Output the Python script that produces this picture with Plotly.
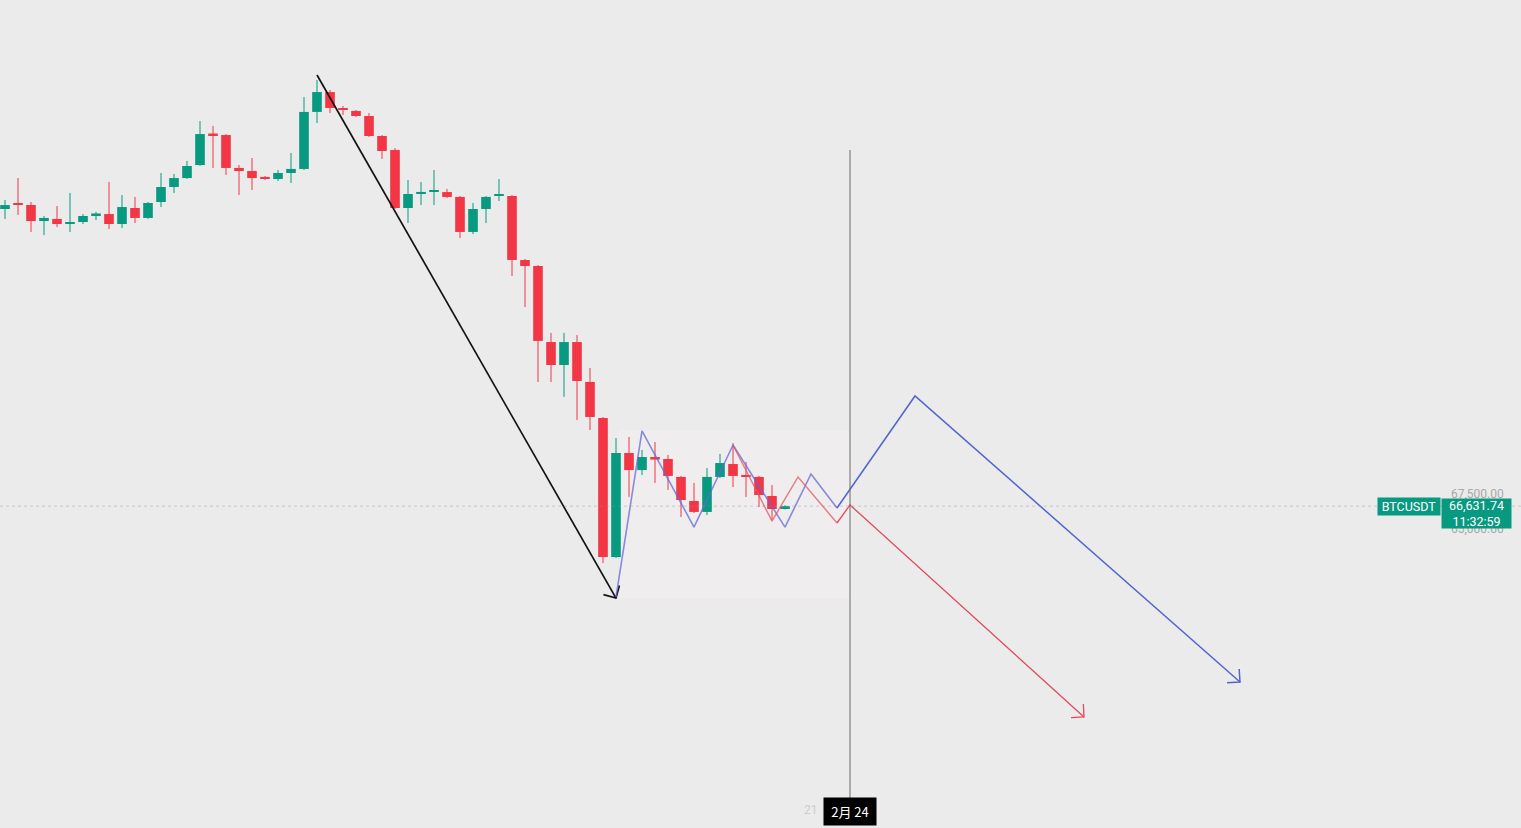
import math
import pandas as pd
import plotly.graph_objects as go

# ── Data: BTCUSDT daily candles ──────────────────────────────────────────────
dates = pd.date_range("2025-12-21", periods=61, freq="D")

opens = [87850, 88240, 88135, 86990, 87140, 86780, 86920, 87420, 87490, 86780,
         87920, 87210, 88350, 89420, 90060, 90990, 93240, 93130, 90780, 90560,
         90140, 89990, 90420, 90710, 94780, 96200, 95060, 94850, 94490, 93060,
         92060, 87920, 88960, 89100, 89060, 88710, 86210, 87850, 88810, 88780,
         84210, 83780, 78350, 76710, 78350, 75500, 72930, 63000, 70430, 69210,
         70140, 70000, 68720, 67000, 66220, 68720, 69640, 68820, 68720, 67360,
         66430]
highs = [88490, 90060, 88350, 87350, 88060, 88990, 87490, 87640, 89780, 88850,
         88710, 88350, 90420, 90350, 91280, 94130, 93780, 93200, 90990, 91490,
         90210, 90630, 91850, 95850, 97060, 96350, 95200, 94920, 94700, 93130,
         92200, 89920, 89780, 90630, 89280, 88780, 88280, 88780, 89990, 88850,
         84280, 83850, 79000, 79000, 78850, 76500, 73000, 71500, 71570, 70640,
         71210, 70290, 68790, 68290, 69360, 70360, 71140, 69790, 68790, 68140,
         66700]
lows = [87140, 87420, 86210, 85990, 86560, 86210, 86780, 87060, 86420, 86490,
        86850, 87140, 87990, 88990, 89990, 90920, 90780, 90280, 88850, 89210,
        89920, 89850, 89710, 90630, 93990, 94700, 94560, 94420, 92990, 91420,
        87850, 86850, 88130, 88130, 88630, 85780, 86060, 86850, 88420, 83070,
        80850, 75500, 75500, 74430, 72780, 72070, 62570, 62930, 67290, 68860,
        68290, 67790, 65860, 66140, 66000, 68640, 68000, 67290, 66570, 65650,
        66400]
closes = [88130, 88170, 86990, 87210, 86780, 86920, 87350, 87530, 86780, 87990,
          87210, 88280, 89420, 90060, 90920, 93200, 93130, 90780, 90560, 90060,
          89990, 90420, 90710, 94780, 96200, 95060, 94950, 94490, 93060, 91990,
          87920, 88920, 88990, 89130, 88710, 86210, 87850, 88710, 88850, 84210,
          83780, 78430, 76710, 78350, 75570, 73000, 63000, 70430, 69210, 70140,
          69960, 68790, 67070, 66220, 68720, 69710, 68790, 68750, 67430, 66430,
          66631.74]

last_price = 66631.74
last_time = "11:32:59"
symbol = "BTCUSDT"
scale_labels = [67500, 65000]

# ── Drawings ────────────────────────────────────────────────────────────────
trend_x = ["2026-01-14", "2026-02-06"]
trend_y = [97420, 60070]

blue_zig_x = ["2026-02-06", "2026-02-08", "2026-02-12", "2026-02-15",
              "2026-02-19", "2026-02-21", "2026-02-23"]
blue_zig_y = [60140, 72000, 65140, 71000, 65140, 68930, 66500]
blue_proj_x = ["2026-02-23", "2026-03-01", "2026-03-26"]
blue_proj_y = [66500, 74500, 54080]

red_zig_x = ["2026-02-15", "2026-02-18", "2026-02-20", "2026-02-23"]
red_zig_y = [71000, 65570, 68720, 65430]
red_proj_x = ["2026-02-23", "2026-02-24", "2026-03-14"]
red_proj_y = [65430, 66720, 51580]

cursor_date = "2026-02-24"
cursor_label = "2月 24"
prev_tick_date = "2026-02-21"
prev_tick_label = "21"

# ── Style ───────────────────────────────────────────────────────────────────
BG = "#ebebeb"
UP = "#089981"
DOWN = "#f23645"
W, H, BOTTOM = 1521, 828, 36
PX_DAY = 13.0        # pixels per day
USD_PX = 71.4        # dollars per pixel
DAY_MS = 86400000

x0 = dates[0] - pd.Timedelta(days=5 / PX_DAY)
x1 = x0 + pd.Timedelta(days=W / PX_DAY)
y_top = 102772
y_bot = y_top - (H - BOTTOM) * USD_PX


def arrow_wings(xs, ys, length=13, spread=45):
    """Open chevron at the end of a polyline, computed in screen pixels."""
    a, b = pd.Timestamp(xs[-2]), pd.Timestamp(xs[-1])
    dx = (b - a) / pd.Timedelta(days=1) * PX_DAY
    dy = -(ys[-1] - ys[-2]) / USD_PX
    back = math.atan2(-dy, -dx)
    wx, wy = [], []
    for s in (-spread, spread):
        ang = back + math.radians(s)
        px, py = length * math.cos(ang), length * math.sin(ang)
        wx.append(b + pd.Timedelta(days=px / PX_DAY))
        wy.append(ys[-1] - py * USD_PX)
    return [wx[0], b, wx[1]], [wy[0], ys[-1], wy[1]]


def line(xs, ys, color, width):
    return go.Scatter(x=xs, y=ys, mode="lines", hoverinfo="skip",
                      line=dict(color=color, width=width), showlegend=False)


fig = go.Figure()

# faint highlight region
fig.add_shape(type="rect", xref="x", yref="y",
              x0="2026-02-06 06:00", x1="2026-02-24", y0=60070, y1=72070,
              fillcolor="rgba(248,243,243,0.32)", line_width=0, layer="below")

# candles: wicks as lines, bodies as bars (min 1.5px tall like TradingView)
for rising, color in ((True, UP), (False, DOWN)):
    idx = [i for i in range(len(dates)) if (closes[i] >= opens[i]) == rising]
    wx, wy = [], []
    for i in idx:
        wx += [dates[i], dates[i], None]
        wy += [lows[i], highs[i], None]
    fig.add_trace(go.Scatter(x=wx, y=wy, mode="lines", hoverinfo="skip",
                             line=dict(color=color, width=1), showlegend=False))
    fig.add_trace(go.Bar(
        x=[dates[i] for i in idx],
        base=[min(opens[i], closes[i]) for i in idx],
        y=[max(abs(closes[i] - opens[i]), USD_PX * 1.5) for i in idx],
        width=0.74 * DAY_MS, marker=dict(color=color, line_width=0),
        hoverinfo="skip", showlegend=False,
    ))

# trend line + arrow
fig.add_trace(line(trend_x, trend_y, "#131313", 1.7))
ax, ay = arrow_wings(trend_x, trend_y)
fig.add_trace(line(ax, ay, "#131313", 1.7))

# blue path
fig.add_trace(line(blue_zig_x, blue_zig_y, "rgba(100,106,212,0.75)", 1.6))
fig.add_trace(line(blue_proj_x, blue_proj_y, "#5065cf", 1.5))
ax, ay = arrow_wings(blue_proj_x, blue_proj_y)
fig.add_trace(line(ax, ay, "#5065cf", 1.5))

# red path
fig.add_trace(line(red_zig_x, red_zig_y, "rgba(226,84,100,0.72)", 1.5))
fig.add_trace(line(red_proj_x, red_proj_y, "#e04a5e", 1.3))
ax, ay = arrow_wings(red_proj_x, red_proj_y)
fig.add_trace(line(ax, ay, "#e04a5e", 1.3))

# last price dotted line and cursor line
fig.add_shape(type="line", xref="paper", yref="y", x0=0, x1=1,
              y0=last_price, y1=last_price,
              line=dict(color="rgba(150,150,150,0.4)", width=1, dash="dot"))
fig.add_shape(type="line", xref="x", yref="paper",
              x0=cursor_date, x1=cursor_date, y0=-0.008, y1=(H - BOTTOM - 150) / (H - BOTTOM),
              line=dict(color="#6a6a6a", width=1))

# right price scale labels
FONT = "Roboto, Liberation Sans, sans-serif"
for v in scale_labels:
    fig.add_annotation(xref="paper", yref="y", x=1477 / W, y=v, xanchor="center",
                       text=f"{v:,.2f}", showarrow=False,
                       font=dict(family=FONT, size=12, color="#a8a8a8"))
fig.add_annotation(xref="paper", yref="y", x=1476 / W, y=last_price,
                   xanchor="center", yanchor="top", yshift=8,
                   text=f"{last_price:,.2f}<br>{last_time}", showarrow=False,
                   bgcolor=UP, borderpad=1, width=67, height=27, align="center",
                   font=dict(family=FONT, size=12.5, color="white"))
fig.add_annotation(xref="paper", yref="y", x=1409 / W, y=last_price, xanchor="center",
                   text=symbol, showarrow=False, bgcolor=UP, borderpad=1, width=60,
                   font=dict(family=FONT, size=12.5, color="white"))

# time axis labels
fig.add_annotation(xref="x", yref="paper", x=prev_tick_date, y=0, yanchor="top", yshift=-9,
                   text=prev_tick_label, showarrow=False,
                   font=dict(family=FONT, size=12, color="#cdcdcd"))
fig.add_annotation(xref="x", yref="paper", x=cursor_date, y=0, yanchor="top", yshift=-5,
                   text=cursor_label, showarrow=False, bgcolor="#000000", borderpad=4,
                   width=44, font=dict(family="Noto Sans CJK SC, sans-serif", size=13,
                                       color="white"))

fig.update_layout(
    width=W, height=H,
    paper_bgcolor=BG, plot_bgcolor=BG,
    margin=dict(l=0, r=0, t=0, b=BOTTOM),
    showlegend=False, barmode="overlay",
    xaxis=dict(range=[x0, x1], showgrid=False, showticklabels=False,
               zeroline=False, showline=False),
    yaxis=dict(range=[y_bot, y_top], showgrid=False, showticklabels=False,
               zeroline=False, showline=False),
)

fig.write_html(
    "out.html",
    config={"displayModeBar": False},
    post_script="document.body.style.margin='0';document.body.style.overflow='hidden';"
                "document.body.style.background='" + BG + "';",
)
